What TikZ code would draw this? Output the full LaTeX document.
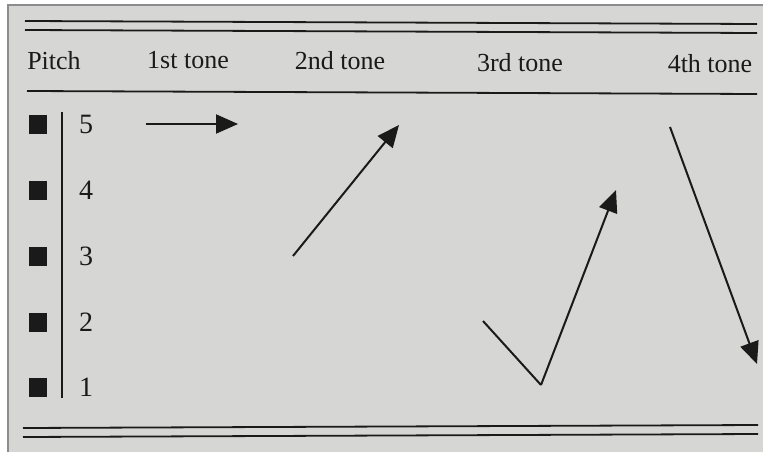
\documentclass[tikz,border=0pt]{standalone}
\usepackage{fontspec}
\setmainfont{Liberation Serif}
\usetikzlibrary{arrows.meta}
\definecolor{paper}{HTML}{D6D6D4}
\definecolor{ink}{HTML}{1A1A1A}
\definecolor{framecol}{HTML}{8C8C8C}
\begin{document}
\begin{tikzpicture}[x=1pt,y=-1pt,
  rule/.style={draw=ink, line width=1.8pt},
  hdr/.style={font=\fontsize{26}{28}\selectfont, text=ink, inner sep=0pt, anchor=base},
  num/.style={font=\fontsize{28}{30}\selectfont, text=ink, inner sep=0pt},
  sq/.style={fill=ink, draw=none, minimum width=18pt, minimum height=19pt, inner sep=0pt},
  tonearrow/.style={draw=ink, line width=2pt, -{Triangle[length=22pt,width=19pt]}},
  toneline/.style={draw=ink, line width=2pt}]
\useasboundingbox (0,0) rectangle (763,452);
\fill[white] (0,0) rectangle (763,452);
\fill[paper] (8,5) rectangle (763,452);
\draw[framecol, line width=1.5pt] (8,452) -- (8,5) -- (763,5);
% rules
\draw[rule] (25,21) -- (757,24);
\draw[rule] (25,30) -- (757,33);
\draw[rule] (27,91) -- (757,94);
\draw[rule] (23,428) -- (758,425);
\draw[rule] (23,437) -- (758,434);
% header
\node[hdr] (pitch) at (54,70) {Pitch};
\node[hdr] (t1) at (188,69) {1st tone};
\node[hdr] (t2) at (340,70) {2nd tone};
\node[hdr] (t3) at (520,71) {3rd tone};
\node[hdr] (t4) at (710,73) {4th tone};
% scale
\draw[toneline] (62,112) -- (62,398);
\foreach \n/\y in {5/124,4/190,3/256,2/322,1/387}{
  \node[sq] (sq\n) at (37.5,\y) {};
  \node[num] (n\n) at (86,\y) {\n};
}
% tones
\coordinate (a1) at (146,124);
\coordinate (b1) at (238,124);
\draw[tonearrow] (a1) -- (b1);
\coordinate (a2) at (293,256);
\coordinate (b2) at (399,125);
\draw[tonearrow] (a2) -- (b2);
\coordinate (a3) at (483,321);
\coordinate (m3) at (541,385);
\coordinate (b3) at (616,190);
\draw[toneline] (a3) -- (m3);
\draw[tonearrow] (m3) -- (b3);
\coordinate (a4) at (670,127);
\coordinate (b4) at (757,364);
\draw[tonearrow] (a4) -- (b4);
\end{tikzpicture}
\end{document}
